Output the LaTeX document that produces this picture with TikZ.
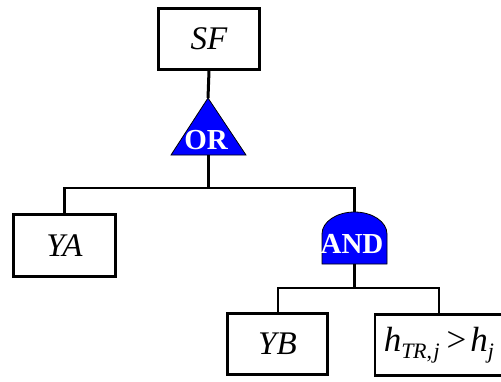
\documentclass[tikz,border=0pt]{standalone}
\usepackage{fontspec}
\setmainfont{Liberation Serif}
\begin{document}
\begin{tikzpicture}[x=1pt,y=-1pt,
  box/.style={draw, line width=2.8pt, fill=white, inner sep=0pt, font=\fontsize{33}{33}\selectfont\itshape},
  trunk/.style={line width=3pt},
  branch/.style={line width=2pt},
  gatefill/.style={fill={rgb,255:red,0;green,0;blue,255}, draw=black, line width=0.8pt},
  gatetext/.style={text=white, font=\fontsize{29}{29}\selectfont\bfseries, inner sep=0pt}]
\useasboundingbox (0,0) rectangle (501,381);
% boxes
\node[box, minimum width=101, minimum height=61] (SF) at (209,39) {SF};
\node[box, minimum width=102, minimum height=62] (YA) at (64.5,245.5) {YA};
\node[box, minimum width=100, minimum height=61] (YB) at (277.5,344) {YB};
\node[box, minimum width=128, minimum height=61] (H) at (439,345) {%
  \fontsize{35}{35}\selectfont h\raisebox{-7pt}{\fontsize{22}{22}\selectfont T\kern-0.5pt R\upshape,\kern1.5pt\itshape j}\kern7pt\upshape >\kern4pt\itshape h\raisebox{-7pt}{\fontsize{22}{22}\selectfont j}};
% gate coordinates
\coordinate (ORtop) at (208,98);
\coordinate (ORbot) at (208,155);
\coordinate (ANDtop) at (354.5,212);
\coordinate (ANDbot) at (354.5,264);
\coordinate (J1) at (208,188);
\coordinate (J2) at (354.5,288);
% OR gate
\draw[gatefill] (ORtop) -- (246,155) -- (171,155) -- cycle;
\node[gatetext, anchor=base] (ORlabel) at (206,149) {OR};
% AND gate
\draw[gatefill] (ANDbot) -- (387,264) -- (387,234) arc[start angle=0, end angle=-180, x radius=32.5, y radius=22] -- (322,264) -- cycle;
\node[gatetext, anchor=base] (ANDlabel) at (352,253) {AND};
% connectors
\draw[trunk] (SF.south) -- (ORtop);
\draw[trunk] (ORbot) -- (J1);
\draw[branch] (J1) -| (YA.north);
\draw[trunk] (YA.north) ++(0,-26) -- (YA.north);
\draw[branch] (J1) -| (ANDtop);
\draw[trunk] (ANDtop) ++(0,-24) -- (ANDtop);
\draw[trunk] (ANDbot) -- (J2);
\draw[branch] (J2) -| (YB.north);
\draw[branch] (J2) -| (H.north);
\end{tikzpicture}
\end{document}
